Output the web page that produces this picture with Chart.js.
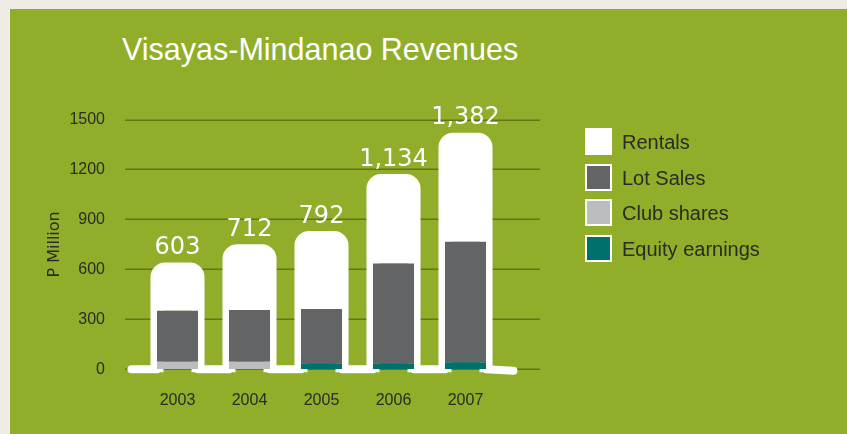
<!DOCTYPE html>
<html>
<head>
<meta charset="utf-8">
<script src="https://cdn.jsdelivr.net/npm/chart.js@4.4.0/dist/chart.umd.min.js"></script>
<style>
  html, body { margin: 0; padding: 0; }
  body { width: 847px; height: 434px; background: #efece3; position: relative; overflow: hidden; font-family: "Liberation Sans", Arial, sans-serif; }
  #panel { position: absolute; left: 10px; top: 9px; right: -20px; bottom: -20px; background: #90ae2a; }
  #title { position: absolute; left: 122px; top: 34px; font-size: 30.5px; line-height: 30px; color: #ffffff; white-space: nowrap; }
  #chart { position: absolute; left: 0; top: 0; }
  #legend { position: absolute; left: 585px; top: 128px; }
  .item { position: relative; height: 35.6px; }
  .box { position: absolute; left: 0; top: 0; width: 23px; height: 23px; border: 2px solid #ffffff; }
  .lbl { position: absolute; left: 37px; top: 1px; font-size: 20px; line-height: 26px; color: #2a2a26; white-space: nowrap; }
</style>
</head>
<body>
<div id="panel"></div>
<div id="title">Visayas-Mindanao Revenues</div>
<canvas id="chart" width="847" height="434"></canvas>
<div id="legend"></div>
<script>
// ---- data ----
const years = ['2003', '2004', '2005', '2006', '2007'];
const totals = [603, 712, 792, 1134, 1382];
const totalLabels = ['603', '712', '792', '1,134', '1,382'];
const rentals = [251, 356, 430, 498, 616];
const lotSales = [307, 310, 326, 600, 724];
const clubShares = [45, 46, 0, 0, 0];
const equityEarnings = [0, 0, 36, 36, 42];
const yTicks = [0, 300, 600, 900, 1200, 1500];

const colors = {
  rentals: '#ffffff',
  lot: '#636466',
  club: '#bcbdbf',
  equity: '#00706c'
};

// HTML legend (order as in reference)
const legendItems = [
  { name: 'Rentals', color: colors.rentals },
  { name: 'Lot Sales', color: colors.lot },
  { name: 'Club shares', color: colors.club },
  { name: 'Equity earnings', color: colors.equity }
];
const legendEl = document.getElementById('legend');
legendItems.forEach(it => {
  const d = document.createElement('div');
  d.className = 'item';
  d.innerHTML = '<div class="box" style="background:' + it.color + '"></div><div class="lbl">' + it.name + '</div>';
  legendEl.appendChild(d);
});

// plugin: extended gridlines, white outline, total labels
const decor = {
  id: 'decor',
  beforeDatasetsDraw(chart) {
    const ctx = chart.ctx;
    const ys = chart.scales.y;
    const area = chart.chartArea;
    ctx.save();
    // gridlines
    ctx.strokeStyle = '#5f771b';
    ctx.lineWidth = 1.6;
    ys.ticks.forEach(t => {
      const y = Math.round(ys.getPixelForValue(t.value)) + 0.2;
      ctx.beginPath();
      ctx.moveTo(area.left - 16.5, y);
      ctx.lineTo(area.right + 38.5, y);
      ctx.stroke();
    });
    const base = ys.getPixelForValue(0);
    const metas = chart.getSortedVisibleDatasetMetas();
    // bar geometry from the library's elements
    const bars = years.map((_, i) => {
      let top = base, x = 0, w = 0;
      metas.forEach(m => {
        const el = m.data[i];
        x = el.x; w = el.width;
        top = Math.min(top, el.y);
      });
      return { l: x - w / 2, r: x + w / 2, top };
    });
    // white baseline segments between bars
    ctx.strokeStyle = '#ffffff';
    ctx.lineCap = 'round';
    ctx.lineWidth = 8;
    let prev = area.left - 10;
    bars.forEach(b => {
      ctx.beginPath();
      ctx.moveTo(prev, base);
      ctx.lineTo(b.l, base);
      ctx.stroke();
      prev = b.r;
    });
    ctx.beginPath();
    ctx.moveTo(prev, base);
    ctx.lineTo(area.right + 12, base + 1.5);
    ctx.stroke();
    // white bar outlines
    const r = 8;
    ctx.lineWidth = 13;
    ctx.lineJoin = 'round';
    ctx.lineCap = 'butt';
    bars.forEach(b => {
      ctx.beginPath();
      ctx.moveTo(b.l, base + 3);
      ctx.lineTo(b.l, b.top + r);
      ctx.arcTo(b.l, b.top, b.l + r, b.top, r);
      ctx.lineTo(b.r - r, b.top);
      ctx.arcTo(b.r, b.top, b.r, b.top + r, r);
      ctx.lineTo(b.r, base + 3);
      ctx.stroke();
    });
    ctx.restore();
  },
  afterDatasetsDraw(chart) {
    const ctx = chart.ctx;
    const ys = chart.scales.y;
    const xs = chart.scales.x;
    ctx.save();
    ctx.fillStyle = '#ffffff';
    ctx.font = '24px "DejaVu Sans"';
    ctx.textAlign = 'center';
    ctx.textBaseline = 'middle';
    totals.forEach((v, i) => {
      ctx.fillText(totalLabels[i], xs.getPixelForValue(i), ys.getPixelForValue(v) - 21);
    });
    ctx.restore();
  }
};

const commonBar = { barPercentage: 0.57, categoryPercentage: 1.0, borderWidth: 0 };

new Chart(document.getElementById('chart'), {
  type: 'bar',
  data: {
    labels: years,
    datasets: [
      Object.assign({ label: 'Equity earnings', data: equityEarnings, backgroundColor: colors.equity }, commonBar),
      Object.assign({ label: 'Club shares', data: clubShares, backgroundColor: colors.club }, commonBar),
      Object.assign({ label: 'Lot Sales', data: lotSales, backgroundColor: colors.lot }, commonBar),
      Object.assign({ label: 'Rentals', data: rentals, backgroundColor: colors.rentals }, commonBar)
    ]
  },
  options: {
    responsive: false,
    devicePixelRatio: 1,
    animation: false,
    layout: { padding: { left: 45, right: 345.5, top: 119.5, bottom: 0 } },
    plugins: { legend: { display: false }, tooltip: { enabled: false }, title: { display: false } },
    scales: {
      x: {
        stacked: true,
        grid: { display: false, drawTicks: false },
        border: { display: false },
        ticks: { color: '#2b2b27', font: { family: '"Liberation Sans", Arial, sans-serif', size: 16 }, padding: 22 },
        afterFit(s) { s.height = 64.7; }
      },
      y: {
        stacked: true,
        min: 0,
        max: 1500,
        afterBuildTicks(s) { s.ticks = yTicks.map(v => ({ value: v })); },
        grid: { display: false, drawTicks: false },
        border: { display: false },
        ticks: {
          color: '#2b2b27',
          font: { family: '"Liberation Sans", Arial, sans-serif', size: 16 },
          padding: 36.5,
          callback: (v) => String(v)
        },
        title: { display: true, text: 'P Million', color: '#2b2b27', font: { family: '"DejaVu Sans", sans-serif', size: 16 }, padding: 0 },
        afterFit(s) { s.width = 96.5; }
      }
    }
  },
  plugins: [decor]
});
</script>
</body>
</html>
